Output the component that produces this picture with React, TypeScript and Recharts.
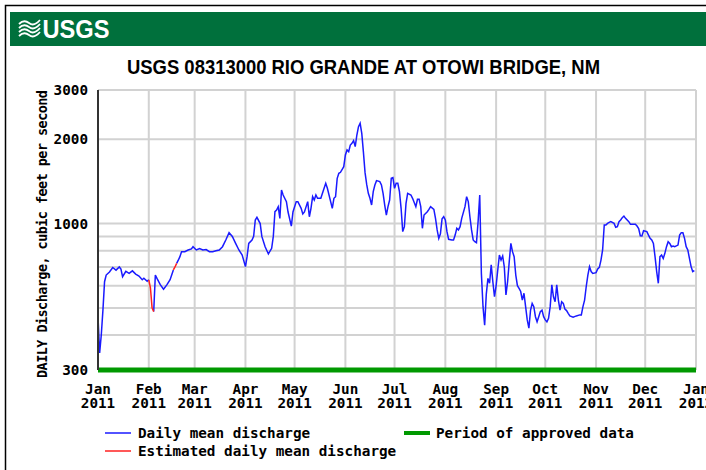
import { LineChart, Line, XAxis, YAxis, CartesianGrid, ReferenceLine } from 'recharts'

// day of year (0 = Jan 1 2011) and daily mean discharge, cubic feet per second
const dayOfYear = [
  0, 1, 2, 3, 4, 5, 7, 9, 11, 13, 14, 15, 17, 19, 21, 23, 25, 27, 28, 30, 31,
  34, 35, 36, 38, 40, 42, 44, 46,
  48, 49, 50, 51, 53, 55, 57, 58, 60, 62, 64, 66, 68, 70, 72, 74, 76, 78, 80, 82, 84, 86, 88,
  90, 91, 92, 94, 95, 96, 97, 99, 100, 102, 104, 106, 107, 108, 109, 110, 111, 112, 113, 115, 116, 118, 119,
  121, 122, 124, 125, 126, 128, 129, 130, 131, 132, 133, 134, 136, 138, 139, 140, 142, 143, 144, 145, 146, 147, 148, 150,
  151, 152, 153, 154, 155, 156, 157, 158, 159, 160, 161, 162, 163, 164, 165, 166, 167, 168, 169, 170, 172, 173, 174, 175, 176, 177, 178, 179, 180,
  181, 182, 183, 184, 185, 186, 187, 188, 189, 191, 192, 194, 195, 196, 197, 198, 199, 201, 202, 203, 205, 206, 207, 208, 209, 210, 211,
  212, 213, 214, 216, 217, 218, 219, 220, 221, 222, 224, 225, 226, 227, 228, 229, 230, 231, 232, 233, 234, 235, 236, 237, 238, 239, 240, 241, 242,
  243, 244, 245, 246, 247, 248, 249, 250, 251, 252, 253, 254, 255, 256, 257, 258, 259, 260, 261, 262, 263, 264, 265, 266, 267, 268, 269, 270, 271, 272,
  273, 274, 275, 276, 277, 278, 279, 280, 281, 282, 283, 284, 285, 286, 287, 288, 290, 292, 294, 295, 296, 297, 298, 299, 300, 301, 302,
  304, 305, 306, 307, 308, 309, 310, 311, 312, 313, 315, 316, 317, 318, 319, 320, 321, 322, 324, 325, 328, 329, 330, 331, 332, 333,
  335, 336, 337, 338, 339, 340, 341, 342, 343, 344, 345, 346, 347, 348, 349, 350, 351, 352, 354, 355, 356, 357, 358, 359, 360, 361, 362, 363, 364,
]
const dailyMean = [
  465, 345, 400, 490, 620, 655, 672, 697, 682, 700, 688, 646, 675, 664, 678, 660, 650, 630, 638, 622, 630,
  485, 655, 637, 605, 583, 604, 630, 683,
  721, 740, 762, 794, 794, 805, 812, 827, 805, 815, 805, 808, 794, 794, 800, 805, 827, 874, 928, 900, 850, 805, 772,
  702, 762, 850, 874, 900, 1030, 1053, 1000, 900, 827, 779, 816, 900, 1103, 1118, 1149, 1044, 1318, 1265, 1198, 1100, 980, 1100,
  1198, 1198, 1134, 1082, 1100, 1198, 1058, 1134, 1248, 1214, 1265, 1231, 1231, 1337, 1393, 1337, 1198, 1134, 1231, 1248, 1451, 1512, 1525, 1597,
  1758, 1832, 1807, 1908, 1935, 1978, 1883, 2072, 2219, 2281, 2100, 1800, 1520, 1380, 1283, 1231, 1165, 1300, 1374, 1424, 1412, 1374, 1283, 1165, 1073, 1150, 1214, 1451, 1459,
  1337, 1393, 1393, 1300, 1134, 936, 975, 1181, 1283, 1265, 1231, 1149, 1221, 1221, 1149, 962, 1073, 1103, 1124, 1149, 1124, 1044, 949, 886, 920, 1040, 1058,
  1030, 936, 879, 874, 874, 910, 962, 949, 975, 1044, 1149, 1248, 1198, 1058, 949, 874, 862, 855, 1016, 1265, 664, 505, 434, 560, 637, 612, 712, 620, 548,
  600, 683, 772, 741, 766, 700, 556, 620, 731, 850, 794, 762, 655, 600, 587, 572, 533, 564, 505, 453, 423, 490, 519, 505, 465, 446, 465, 485, 491, 465,
  453, 446, 459, 505, 604, 548, 526, 604, 533, 491, 526, 519, 495, 489, 478, 468, 463, 468, 472, 472, 505, 533, 596, 655, 702, 674, 664,
  668, 689, 698, 741, 805, 989, 989, 1002, 1010, 1016, 1002, 970, 975, 1016, 1030, 1050, 1064, 1044, 1016, 994, 994, 980, 960, 905, 903, 943,
  936, 910, 886, 874, 850, 762, 674, 612, 762, 772, 751, 783, 827, 862, 850, 827, 832, 827, 838, 910, 928, 928, 886, 827, 805, 751, 702, 674, 679,
]

// estimated daily mean discharge
const estimatedDay = [31, 32, 33, 34, 46, 47, 48]
const estimatedMean = [630, 590, 500, 485, 683, 700, 721]

const monthTicks = [0, 31, 59, 90, 120, 151, 181, 212, 243, 273, 304, 334, 365]
const monthLabels = ['Jan', 'Feb', 'Mar', 'Apr', 'May', 'Jun', 'Jul', 'Aug', 'Sep', 'Oct', 'Nov', 'Dec', 'Jan']
const yearLabels = ['2011', '2011', '2011', '2011', '2011', '2011', '2011', '2011', '2011', '2011', '2011', '2011', '2012']

const gridTicks = [300, 400, 500, 600, 700, 800, 900, 1000, 2000, 3000]
const labeledTicks = [300, 1000, 2000, 3000]

const allDays = Array.from(new Set([...dayOfYear, ...estimatedDay])).sort((a, b) => a - b)
const data = allDays.map((day) => {
  const i = dayOfYear.indexOf(day)
  const j = estimatedDay.indexOf(day)
  return {
    day,
    discharge: i >= 0 ? dailyMean[i] : null,
    estimated: j >= 0 ? estimatedMean[j] : null,
  }
})

const mono = '"DejaVu Sans Mono", monospace'

const MonthTick = (props: any) => {
  const { x, y, payload } = props
  const idx = monthTicks.indexOf(payload.value)
  return (
    <g>
      <text x={x} y={y + 21.5} textAnchor="middle" fontFamily={mono} fontWeight="bold" fontSize={14.3} fill="#000">
        {monthLabels[idx]}
      </text>
      <text x={x} y={y + 36} textAnchor="middle" fontFamily={mono} fontWeight="bold" fontSize={14.3} fill="#000">
        {yearLabels[idx]}
      </text>
    </g>
  )
}

const ValueTick = (props: any) => {
  const { x, y, payload } = props
  if (!labeledTicks.includes(payload.value)) return <g />
  return (
    <text x={x} y={y + 5} textAnchor="end" fontFamily={mono} fontWeight="bold" fontSize={14.3} fill="#000">
      {payload.value}
    </text>
  )
}

export default function App() {
  return (
    <div style={{ position: 'absolute', left: 0, top: 0, width: 706, height: 470, overflow: 'hidden', background: '#fff' }}>
      <LineChart width={706} height={470} data={data} margin={{ top: 90, right: 10, bottom: 60, left: 38 }}>
        <CartesianGrid stroke="#d2d2d2" strokeWidth={2} />
        <XAxis
          dataKey="day"
          type="number"
          domain={[0, 365]}
          ticks={monthTicks}
          interval={0}
          tick={<MonthTick />}
          tickLine={false}
          tickSize={0}
          axisLine={false}
          height={40}
        />
        <XAxis
          xAxisId="top"
          orientation="top"
          dataKey="day"
          type="number"
          domain={[0, 365]}
          tick={false}
          tickLine={false}
          height={0}
          axisLine={{ stroke: '#444', strokeWidth: 1.5 }}
        />
        <YAxis
          scale="log"
          type="number"
          domain={[300, 3000]}
          ticks={gridTicks}
          interval={0}
          allowDataOverflow
          tick={<ValueTick />}
          tickLine={false}
          tickSize={0}
          tickMargin={10}
          width={60}
          axisLine={{ stroke: '#333', strokeWidth: 2 }}
        />
        <YAxis
          yAxisId="right"
          orientation="right"
          tick={false}
          tickLine={false}
          width={0}
          axisLine={{ stroke: '#555', strokeWidth: 2 }}
        />
        <ReferenceLine y={300} stroke="#009900" strokeWidth={5} />
        <Line
          type="linear"
          dataKey="discharge"
          stroke="#1a1aff"
          strokeWidth={1.5}
          dot={false}
          connectNulls={false}
          isAnimationActive={false}
        />
        <Line
          type="linear"
          dataKey="estimated"
          stroke="#ff2020"
          strokeWidth={1.5}
          dot={false}
          connectNulls={false}
          isAnimationActive={false}
        />
      </LineChart>

      <svg width={706} height={470} style={{ position: 'absolute', left: 0, top: 0, pointerEvents: 'none' }}>
        <rect x={5.5} y={5.5} width={800} height={600} fill="none" stroke="#000" strokeWidth={1.5} />
        <rect x={10} y={12} width={700} height={34} fill="#00703c" />
        <g stroke="#fff" strokeWidth={1.8} fill="none">
          <path d="M19,24 q5,-5 10,-1 t11,-3" />
          <path d="M19,28 q5,-5 10,-1 t11,-3" />
          <path d="M19,32 q5,-5 10,-1 t11,-3" />
          <path d="M19,36 q5,-5 10,-1 t11,-3" />
        </g>
        <text x={42.5} y={37.5} fill="#fff" fontFamily="Liberation Sans, Arial, sans-serif" fontWeight="bold" fontSize={25} textLength={67} lengthAdjust="spacingAndGlyphs">
          USGS
        </text>
        <text x={127} y={73.5} fill="#000" fontFamily="Liberation Sans, Arial, sans-serif" fontWeight="bold" fontSize={20.5} textLength={473} lengthAdjust="spacingAndGlyphs">
          USGS 08313000 RIO GRANDE AT OTOWI BRIDGE, NM
        </text>
        <text
          transform="translate(46.5,234) rotate(-90)"
          textAnchor="middle"
          fontFamily={mono}
          fontWeight="bold"
          fontSize={13.5}
          textLength={288}
          fill="#000"
        >
          DAILY Discharge, cubic feet per second
        </text>

        <line x1={105} x2={131} y1={433} y2={433} stroke="#1a1aff" strokeWidth={1.5} />
        <text x={138} y={438} fontFamily={mono} fontWeight="bold" fontSize={14.3} fill="#000">
          Daily mean discharge
        </text>
        <line x1={105} x2={131} y1={451} y2={451} stroke="#ff2020" strokeWidth={1.5} />
        <text x={138} y={456} fontFamily={mono} fontWeight="bold" fontSize={14.3} fill="#000">
          Estimated daily mean discharge
        </text>
        <line x1={404} x2={430} y1={433} y2={433} stroke="#009900" strokeWidth={4} />
        <text x={436} y={438} fontFamily={mono} fontWeight="bold" fontSize={14.3} fill="#000">
          Period of approved data
        </text>
      </svg>
    </div>
  )
}
